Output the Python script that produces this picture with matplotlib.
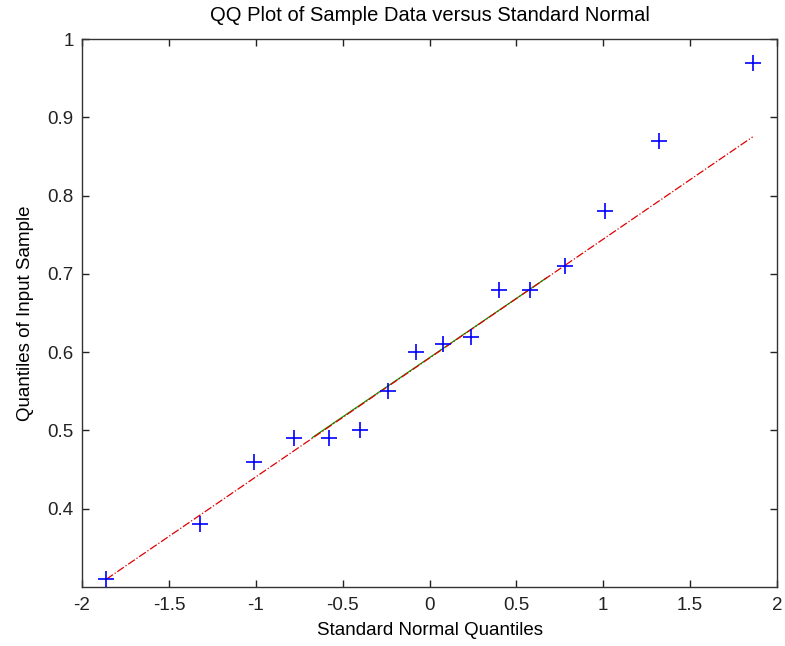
import matplotlib
matplotlib.use("Agg")
import matplotlib.pyplot as plt

# normal quantiles and sample quantiles
normal_q = [-1.86, -1.32, -1.01, -0.78, -0.58, -0.40, -0.24, -0.08,
            0.08, 0.24, 0.40, 0.58, 0.78, 1.01, 1.32, 1.86]
sample_q = [0.31, 0.38, 0.46, 0.49, 0.49, 0.50, 0.55, 0.60,
            0.61, 0.62, 0.68, 0.68, 0.71, 0.78, 0.87, 0.97]

# quartile segment (green) and extended fit line (red)
iqr_x = [-0.674, 0.674]
iqr_y = [0.491, 0.695]
ext_x = [-1.86, 1.86]
ext_y = [0.31, 0.875]

xticks = [-2, -1.5, -1, -0.5, 0, 0.5, 1, 1.5, 2]
xtick_labels = ['-2', '-1.5', '-1', '-0.5', '0', '0.5', '1', '1.5', '2']
yticks = [0.4, 0.5, 0.6, 0.7, 0.8, 0.9, 1.0]
ytick_labels = ['0.4', '0.5', '0.6', '0.7', '0.8', '0.9', '1']

plt.rcParams['font.family'] = ['Liberation Sans', 'DejaVu Sans']

fig = plt.figure(figsize=(7.85, 6.46), dpi=100)
ax = fig.add_axes([0.1045, 0.0913, 0.8853, 0.8483])

ax.plot(normal_q, sample_q, linestyle='none', marker='+', color='#0000ff',
        markersize=11, markeredgewidth=1.2, zorder=3)
ax.plot(iqr_x, iqr_y, color='#00a000', linewidth=0.9, zorder=2)
ax.plot(ext_x, ext_y, color='#e00000', linestyle='-.', linewidth=0.9, zorder=2)

ax.set_xlim(-2, 2)
ax.set_ylim(0.3, 1.0)
ax.set_xticks(xticks)
ax.set_xticklabels(xtick_labels)
ax.set_yticks(yticks)
ax.set_yticklabels(ytick_labels)
ax.tick_params(direction='in', top=True, right=True, length=5, width=1,
               colors='#222222', labelsize=13.5)
ax.tick_params(axis='x', pad=7)
ax.tick_params(axis='y', pad=6)
for sp in ax.spines.values():
    sp.set_linewidth(1.0)
    sp.set_color('#333333')

ax.set_title('QQ Plot of Sample Data versus Standard Normal', fontsize=14.5,
             pad=13)
ax.set_xlabel('Standard Normal Quantiles', fontsize=13.5, labelpad=6)
ax.set_ylabel('Quantiles of Input Sample', fontsize=13.5, labelpad=10)

fig.savefig('out.png', dpi=100)
